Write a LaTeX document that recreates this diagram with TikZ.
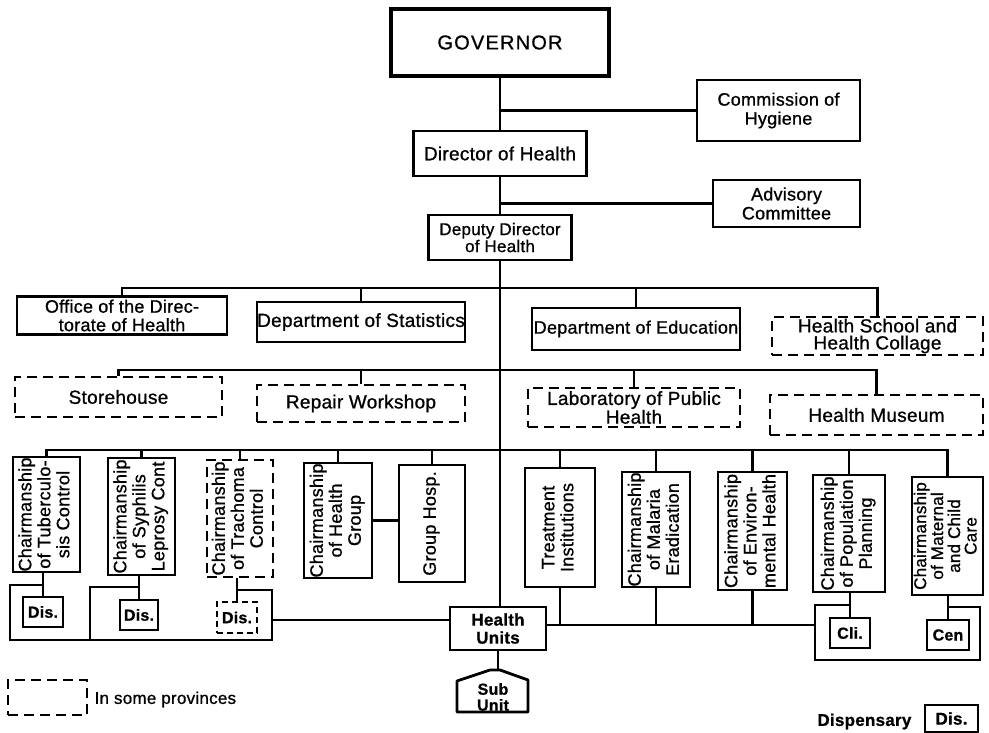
\documentclass[tikz,border=0pt]{standalone}
\usepackage{fontspec}
\setmainfont{Liberation Sans}[LetterSpace=1.5,FakeBold=0.9]
\usetikzlibrary{calc}
\newcommand{\vtxt}[1]{\rotatebox{90}{\begin{tabular}{@{}c@{}}#1\end{tabular}}}
\tikzset{
  bx/.style={draw, line width=2.8pt, inner sep=0pt, align=center, font=\fontsize{19}{17}\selectfont},
  dbx/.style={bx, dash pattern=on 10pt off 6pt},
  vb/.style={bx, font=\fontsize{18}{19}\selectfont},
  dvb/.style={vb, dash pattern=on 10pt off 6pt},
  sm/.style={bx, font=\bfseries\fontsize{16}{16}\selectfont},
  dsm/.style={sm, dash pattern=on 6pt off 4pt},
  cn/.style={line width=2.2pt},
}
\begin{document}
\begin{tikzpicture}[x=1pt,y=-1pt]
\useasboundingbox (0,0) rectangle (989,733);
% top
\node[bx, line width=3.8pt, minimum width=218pt, minimum height=67pt, font=\addfontfeatures{LetterSpace=6}\fontsize{20}{24}\selectfont] (gov) at (500,42.5) {GOVERNOR};
\node[bx, minimum width=163pt, minimum height=61pt, font=\fontsize{18}{19}\selectfont] (comm) at (778.5,110.5) {Commission of\\Hygiene};
\node[bx, minimum width=173pt, minimum height=45pt] (dir) at (500,153.5) {Director of Health};
\node[bx, minimum width=147pt, minimum height=47pt, font=\fontsize{18}{19}\selectfont] (adv) at (786.5,203.5) {Advisory\\Committee};
\node[bx, minimum width=143pt, minimum height=45pt, font=\fontsize{17}{17}\selectfont] (dep) at (500,237.5) {Deputy Director\\of Health};
\draw[cn] (gov.south) -- (dir.north);
\draw[cn] (gov.south |- comm.west) -- (comm.west);
\draw[cn] (dir.south) -- (dep.north);
\draw[cn] (dir.south |- adv.west) -- (adv.west);
% row 1
\node[bx, minimum width=210pt, minimum height=38pt, font=\fontsize{18}{18.5}\selectfont] (office) at (122,315.5) {Office of the Direc-\\torate of Health};
\node[bx, minimum width=208pt, minimum height=40pt] (stats) at (361,322) {Department of Statistics};
\node[bx, minimum width=208pt, minimum height=42pt, font=\fontsize{18}{17}\selectfont] (edu) at (636,329) {Department of Education};
\node[dbx, minimum width=211pt, minimum height=38pt] (school) at (877.5,336) {Health School and\\Health Collage};
\coordinate (b1) at (0,288);
\draw[cn] (office.north) |- (school.north |- b1) -- (school.north);
\draw[cn] (stats.north) -- (stats.north |- b1);
\draw[cn] (edu.north) -- (edu.north |- b1);
% row 2
\node[dbx, minimum width=207pt, minimum height=40pt] (store) at (118.5,397) {Storehouse};
\node[dbx, minimum width=208pt, minimum height=37pt] (repair) at (361,403.5) {Repair Workshop};
\node[dbx, minimum width=212pt, minimum height=39pt] (lab) at (634,407.5) {Laboratory of Public\\Health};
\node[dbx, minimum width=213pt, minimum height=40pt] (museum) at (876.5,415) {Health Museum};
\coordinate (b2) at (0,370);
\draw[cn] (store.north) |- (museum.north |- b2) -- (museum.north);
\draw[cn] (repair.north) -- (repair.north |- b2);
\draw[cn] (lab.north) -- (lab.north |- b2);
% row 3
\node[vb, minimum width=67pt, minimum height=115pt] (r1) at (46.5,514.5) {\vtxt{Chairmanship\\of Tuberculo-\\sis Control}};
\node[vb, minimum width=67pt, minimum height=117pt] (r2) at (141.5,516.5) {\vtxt{Chairmanship\\of Syphilis\\Leprosy Cont}};
\node[dvb, minimum width=66pt, minimum height=117pt] (r3) at (240,518.5) {\vtxt{Chairmanship\\of Trachoma\\Control}};
\node[vb, minimum width=68pt, minimum height=115pt] (r4) at (338,520.5) {\vtxt{Chairmanship\\of Health\\Group}};
\node[vb, minimum width=66pt, minimum height=117pt] (r5) at (432,523.5) {\vtxt{Group Hosp.}};
\node[vb, minimum width=70pt, minimum height=119pt] (r6) at (560,527.5) {\vtxt{Treatment\\Institutions}};
\node[vb, minimum width=68pt, minimum height=115pt] (r7) at (656,529.5) {\vtxt{Chairmanship\\of Malaria\\Eradication}};
\node[vb, minimum width=69pt, minimum height=118pt] (r8) at (752.5,531) {\vtxt{Chairmanship\\of Environ-\\mental Health}};
\node[vb, minimum width=72pt, minimum height=117pt] (r9) at (849,533.5) {\vtxt{Chairmanship\\of Population\\Planning}};
\node[vb, minimum width=71pt, minimum height=118pt, font=\fontsize{17}{15.5}\selectfont] (r10) at (947.5,536) {\vtxt{Chairmanship\\of Maternal\\and Child\\Care}};
\coordinate (b3) at (0,450);
\draw[cn] (r1.north) |- (r10.north |- b3) -- (r10.north);
\foreach \n in {r2,r3,r4,r5,r6,r7,r8,r9} \draw[cn] (\n.north) -- (\n.north |- b3);
\draw[cn] (r4.east) -- (r4.east -| r5.west);
% health units and sub unit
\node[bx, font=\bfseries\fontsize{17}{18}\selectfont, minimum width=96pt, minimum height=43pt] (hu) at (498,628.5) {Health\\Units};
\draw[cn] (dep.south) -- (dep.south |- hu.north);
\node[inner sep=0pt, align=center, font=\bfseries\fontsize{16}{16}\selectfont] (sub) at (493,697) {Sub\\Unit};
\coordinate (subtop) at (495,670);
\draw[line width=2.8pt, line join=round] (457,712) -- (457,681) -- (490,670) -- (500,670) -- (528,680) -- (528,712) -- cycle;
\draw[cn] (hu.south) -- (hu.south |- subtop);
% dispensaries left
\node[sm, minimum width=40pt, minimum height=30pt] (dis1) at (43,612) {Dis.};
\node[sm, minimum width=38pt, minimum height=30pt] (dis2) at (139,615) {Dis.};
\node[dsm, minimum width=40pt, minimum height=31pt] (dis3) at (237,617.5) {Dis.};
\draw[cn] (dis1.north |- r1.south) -- (dis1.north);
\draw[cn] (dis2.north |- r2.south) -- (dis2.north);
\draw[cn] (dis3.north |- r3.south) -- (dis3.north);
\coordinate (L1) at (10,585);
\coordinate (L2) at (10,640);
\coordinate (L3) at (272,640);
\coordinate (L4) at (272,590);
\coordinate (L5) at (90,640);
\coordinate (L6) at (90,587);
\coordinate (L7) at (272,620);
\draw[cn] (dis1.north |- L1) -- (L1) -- (L2) -- (L3) -- (L4) -- (dis3.north |- L4);
\draw[cn] (L5) -- (L6) -- (dis2.north |- L6);
\draw[cn] (L7) -- (L7 -| hu.west);
% right side
\coordinate (R0) at (815,625);
\draw[cn] (hu.east |- R0) -- (R0);
\draw[cn] (r6.south) -- (r6.south |- R0);
\draw[cn] (r7.south) -- (r7.south |- R0);
\draw[cn] (r8.south) -- (r8.south |- R0);
\node[sm, minimum width=40pt, minimum height=30pt] (cli) at (850,633) {Cli.};
\node[sm, minimum width=42pt, minimum height=30pt] (cen) at (948,635) {Cen};
\coordinate (R1) at (815,605);
\coordinate (R2) at (815,660);
\coordinate (R3) at (980,660);
\coordinate (R4) at (980,607);
\draw[cn] (cli.north |- R1) -- (R1) -- (R2) -- (R3) -- (R4) -- (cen.north |- R4);
\draw[cn] (cli.north |- r9.south) -- (cli.north);
\draw[cn] (cen.north |- r10.south) -- (cen.north);
% legend
\node[dbx, minimum width=79pt, minimum height=35pt] (leg) at (47.5,697.5) {};
\node[anchor=west, inner sep=0pt, font=\fontsize{17}{17}\selectfont] (legt) at ($(leg.east)+(6,2)$) {In some provinces};
\node[sm, font=\bfseries\fontsize{17}{17}\selectfont, minimum width=53pt, minimum height=27pt] (dlg) at (951.5,718.5) {Dis.};
\node[anchor=east, inner sep=0pt, font=\bfseries\fontsize{17}{17}\selectfont] (dlt) at ($(dlg.west)+(-12,3)$) {Dispensary};
\end{tikzpicture}
\end{document}
